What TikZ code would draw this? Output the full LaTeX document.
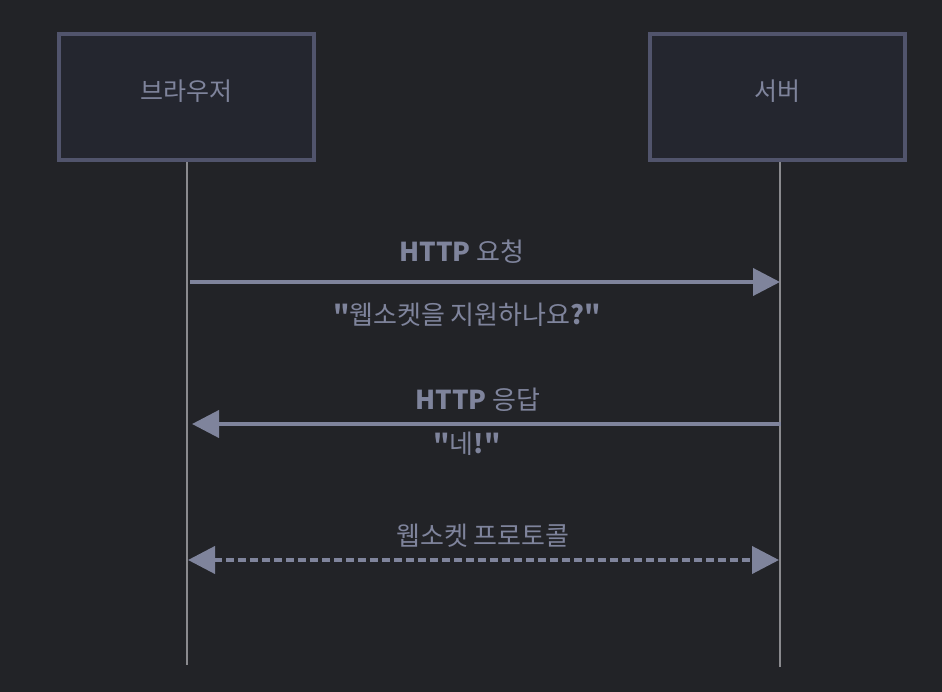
\documentclass[tikz,border=0pt]{standalone}
\usepackage{fontspec}
\setmainfont{Noto Sans CJK KR}[Ligatures=TeXOff]
\usetikzlibrary{arrows.meta}
\definecolor{bg}{HTML}{222327}
\definecolor{boxfill}{HTML}{24262F}
\definecolor{boxline}{HTML}{51546C}
\definecolor{txt}{HTML}{7F849C}
\definecolor{msg}{HTML}{7F849C}
\definecolor{life}{HTML}{8A8A8E}
\newcommand{\qq}{\textbf{"}}
\tikzset{
  actor/.style={draw=boxline, fill=boxfill, line width=4pt, minimum width=255pt, minimum height=126pt, inner sep=0pt, text=txt, font=\fontsize{25}{28}\selectfont},
  lifeline/.style={draw=life, line width=2pt},
  msgline/.style={draw=msg, line width=4pt, -{Triangle[length=27pt,width=27pt]}},
  dmsgline/.style={draw=msg, line width=4pt, dash pattern=on 8pt off 4pt, {Triangle[length=27pt,width=27pt]}-{Triangle[length=27pt,width=27pt]}},
  lbl/.style={text=txt, inner sep=0pt, font=\fontsize{26}{30}\selectfont}
}
\begin{document}
\begin{tikzpicture}[x=1pt,y=-1pt]
\fill[bg] (0,0) rectangle (942,692);
\useasboundingbox (0,0) rectangle (942,692);
\node[actor] (br) at (186,97.5) {\raisebox{14pt}{브라우저}};
\node[actor] (sv) at (777.5,97.5) {\raisebox{14pt}{서버}};
\coordinate (brend) at (187,665);
\coordinate (svend) at (780,667);
\draw[lifeline] (br.south -| brend) -- (brend);
\draw[lifeline] (sv.south -| svend) -- (svend);
\coordinate (a1s) at (190,282);
\coordinate (a1e) at (780,282);
\draw[msgline] (a1s) -- (a1e);
\node[lbl] (l1) at (462,252) {\textbf{HTTP} 요청};
\node[lbl] (l1b) at (467,315) {\qq 웹소켓을 지원하나요\textbf{?}\qq};
\coordinate (a2s) at (781,424);
\coordinate (a2e) at (192,424);
\draw[msgline] (a2s) -- (a2e);
\node[lbl] (l2) at (478,400) {\textbf{HTTP} 응답};
\node[lbl] (l2b) at (467,444) {\qq 네\textbf{!}\qq};
\coordinate (a3s) at (188,560);
\coordinate (a3e) at (779,560);
\draw[dmsgline] (a3s) -- (a3e);
\node[lbl] (l3) at (483,536) {웹소켓 프로토콜};
\end{tikzpicture}
\end{document}
